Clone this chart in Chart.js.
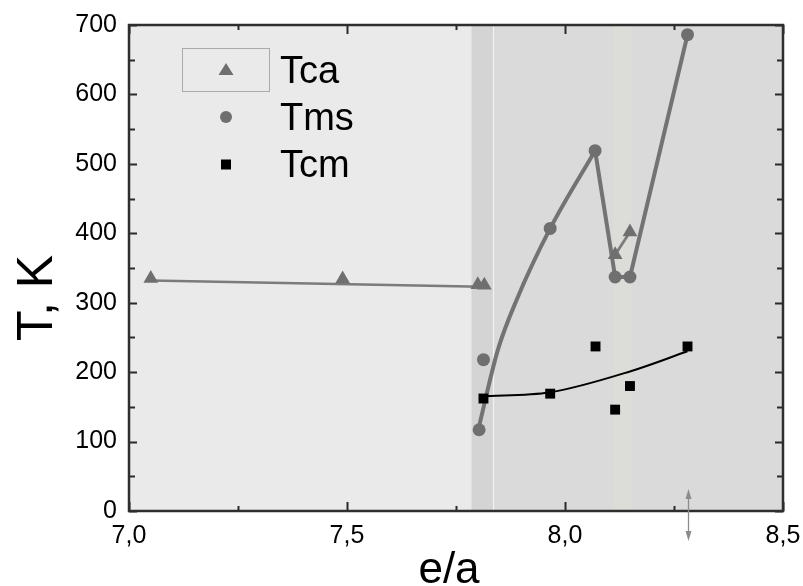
<!DOCTYPE html>
<html><head><meta charset="utf-8">
<script src="https://cdn.jsdelivr.net/npm/chart.js@4.4.1/dist/chart.umd.min.js"></script>
<style>html,body{margin:0;padding:0;background:#fff}canvas{display:block}</style>
</head><body>
<canvas id="c" width="803" height="586"></canvas>
<script>
// ---- data ----
const tcaX = [7.05, 7.49, 7.800, 7.815, 8.115, 8.149];
const tcaY = [335, 334, 326, 325, 369, 402];
const tmsX = [7.803, 7.813, 7.966, 8.069, 8.115, 8.149, 8.281];
const tmsY = [117, 218, 407, 519, 337, 337, 686];
const tcmX = [7.813, 7.966, 8.070, 8.115, 8.149, 8.281];
const tcmY = [162, 169, 237, 146, 180, 237];
// guide lines drawn in the picture
const tcaFitX = [7.05, 7.81];
const tcaFitY = [332, 323];
const tcaSegX = [8.115, 8.149];
const tcaSegY = [369, 402];
const tmsCurveX = [7.801, 7.846, 7.889, 7.966, 8.069];
const tmsCurveY = [117, 232, 304, 407, 519];
const tmsPolyX = [8.069, 8.115, 8.149, 8.281];
const tmsPolyY = [519, 337, 337, 686];
const tcmFitX = [7.807, 7.966, 8.149, 8.281];
const tcmFitY = [165, 171, 201, 230];
const xTicks = [7.0, 7.5, 8.0, 8.5];
const yTicks = [0, 100, 200, 300, 400, 500, 600, 700];
const seriesNames = ['Tca', 'Tms', 'Tcm'];
const xTitle = 'e/a';
const yTitle = 'T, K';
// shaded regions (e/a values) and arrow marker position
const shadeStart = 7.786, shadeLine = 7.836, bandLo = 8.111, bandHi = 8.153;
const arrowX = 8.281;

const pts = (xs, ys) => xs.map((v, i) => ({x: v, y: ys[i]}));
const FONT = '"Liberation Sans", Arial, sans-serif';
const GREY = '#6e6f6e';

const plotPlugin = {
  id: 'plotDeco',
  beforeDatasetsDraw(chart) {
    const {ctx, chartArea: a, scales: {x}} = chart;
    const px = v => x.getPixelForValue(v);
    ctx.save();
    ctx.fillStyle = '#e9eae9'; ctx.fillRect(a.left, a.top, a.width, a.height);
    ctx.fillStyle = '#d9dad9'; ctx.fillRect(px(shadeStart), a.top, a.right - px(shadeStart), a.height);
    ctx.fillStyle = '#d3d4d3'; ctx.fillRect(px(shadeStart), a.top, px(shadeLine) - px(shadeStart), a.height);
    ctx.fillStyle = '#dcdcd8'; ctx.fillRect(px(bandLo), a.top, px(bandHi) - px(bandLo), a.height);
    ctx.strokeStyle = '#f2f2f2'; ctx.lineWidth = 1.2;
    ctx.beginPath(); ctx.moveTo(px(shadeLine), a.top); ctx.lineTo(px(shadeLine), a.bottom); ctx.stroke();
    ctx.restore();
  },
  afterDatasetsDraw(chart) {
    const {ctx, chartArea: a, scales: {x, y}} = chart;
    ctx.save();
    ctx.strokeStyle = '#2a2a2a'; ctx.lineWidth = 2;
    ctx.beginPath();
    for (let v = 7.0; v <= 8.5001; v += 0.25) {
      const p = Math.round(x.getPixelForValue(v)) + 0.5;
      const L = (Math.abs(v * 2 - Math.round(v * 2)) < 1e-6) ? 9 : 5;
      ctx.moveTo(p, a.bottom); ctx.lineTo(p, a.bottom - L);
      ctx.moveTo(p, a.top); ctx.lineTo(p, a.top + L);
    }
    for (let v = 0; v <= 700; v += 50) {
      const p = Math.round(y.getPixelForValue(v)) + 0.5;
      const L = (v % 100 === 0) ? 8 : 6;
      ctx.moveTo(a.left, p); ctx.lineTo(a.left + L, p);
      ctx.moveTo(a.right, p); ctx.lineTo(a.right - L, p);
    }
    ctx.stroke();
    ctx.strokeStyle = '#2e2e2e'; ctx.lineWidth = 2.5;
    ctx.strokeRect(a.left, a.top, a.width, a.height);
    // legend
    const lx = a.left + 53.5, ly = a.top + 23.5;
    ctx.strokeStyle = '#a9aaa9'; ctx.lineWidth = 1;
    ctx.strokeRect(lx, ly, 87, 43);
    const sx = lx + 43.5;
    const rows = [ly + 21.5, ly + 68.5, ly + 116];
    ctx.fillStyle = GREY;
    ctx.beginPath();
    ctx.moveTo(sx, rows[0] - 7); ctx.lineTo(sx + 7.5, rows[0] + 5); ctx.lineTo(sx - 7.5, rows[0] + 5); ctx.closePath(); ctx.fill();
    ctx.beginPath(); ctx.arc(sx, rows[1], 6, 0, Math.PI * 2); ctx.fill();
    ctx.fillStyle = '#000'; ctx.fillRect(sx - 5, rows[2] - 5, 10, 10);
    ctx.fillStyle = '#000'; ctx.font = '38px ' + FONT; ctx.textBaseline = 'alphabetic'; ctx.textAlign = 'left';
    const tx = lx + 97.5;
    ctx.fillText(seriesNames[0], tx, rows[0] + 13);
    ctx.fillText(seriesNames[1], tx, rows[1] + 13);
    ctx.fillText(seriesNames[2], tx, rows[2] + 12.5);
    ctx.restore();
  },
  afterDraw(chart) {
    const {ctx, chartArea: a, scales: {x}} = chart;
    ctx.save();
    const ax = Math.round(x.getPixelForValue(arrowX)) + 0.5;
    ctx.strokeStyle = '#8c8c8c'; ctx.fillStyle = '#8c8c8c'; ctx.lineWidth = 1.3;
    ctx.beginPath(); ctx.moveTo(ax, a.bottom - 18); ctx.lineTo(ax, a.bottom + 26); ctx.stroke();
    ctx.beginPath(); ctx.moveTo(ax, a.bottom - 22); ctx.lineTo(ax + 3, a.bottom - 12); ctx.lineTo(ax - 3, a.bottom - 12); ctx.closePath(); ctx.fill();
    ctx.beginPath(); ctx.moveTo(ax, a.bottom + 30); ctx.lineTo(ax + 3, a.bottom + 20); ctx.lineTo(ax - 3, a.bottom + 20); ctx.closePath(); ctx.fill();
    ctx.fillStyle = '#000';
    ctx.font = '44px ' + FONT; ctx.textAlign = 'center'; ctx.textBaseline = 'alphabetic';
    ctx.fillText(xTitle, 449, 583);
    ctx.translate(52, a.top + 273);
    ctx.rotate(-Math.PI / 2);
    ctx.font = '50px ' + FONT;
    ctx.fillText(yTitle, 0, 0);
    ctx.restore();
  }
};

new Chart(document.getElementById('c'), {
  type: 'scatter',
  data: {
    datasets: [
      {label: 'Tca', data: pts(tcaX, tcaY), pointStyle: 'triangle', pointRadius: 8.5, backgroundColor: GREY, borderColor: GREY, borderWidth: 0, showLine: false, order: 1},
      {label: 'Tms', data: pts(tmsX, tmsY), pointStyle: 'circle', pointRadius: 6.5, backgroundColor: GREY, borderColor: GREY, borderWidth: 0, showLine: false, order: 1},
      {label: 'Tcm', data: pts(tcmX, tcmY), pointStyle: 'rect', pointRadius: 7, backgroundColor: '#000', borderColor: '#000', borderWidth: 0, showLine: false, order: 0},
      {label: 'Tca fit', data: pts(tcaFitX, tcaFitY), showLine: true, pointRadius: 0, borderColor: '#7a7b7a', borderWidth: 2.7, tension: 0, order: 5},
      {label: 'Tca seg', data: pts(tcaSegX, tcaSegY), showLine: true, pointRadius: 0, borderColor: '#7a7b7a', borderWidth: 2.7, tension: 0, order: 5},
      {label: 'Tms curve', data: pts(tmsCurveX, tmsCurveY), showLine: true, pointRadius: 0, borderColor: '#727372', borderWidth: 4, cubicInterpolationMode: 'monotone', borderCapStyle: 'round', order: 4},
      {label: 'Tms poly', data: pts(tmsPolyX, tmsPolyY), showLine: true, pointRadius: 0, borderColor: '#727372', borderWidth: 4, tension: 0, borderJoinStyle: 'round', order: 4},
      {label: 'Tcm fit', data: pts(tcmFitX, tcmFitY), showLine: true, pointRadius: 0, borderColor: '#000', borderWidth: 2, cubicInterpolationMode: 'monotone', order: 3}
    ]
  },
  options: {
    responsive: false,
    animation: false,
    events: [],
    layout: {padding: {top: 25, right: 20, left: 0, bottom: 0}},
    plugins: {legend: {display: false}, tooltip: {enabled: false}},
    scales: {
      x: {
        type: 'linear', min: 7, max: 8.5,
        afterBuildTicks: s => { s.ticks = xTicks.map(v => ({value: v})); },
        afterFit: s => { s.height = 75; s.paddingLeft = 0; s.paddingRight = 0; },
        grid: {display: false, drawTicks: false},
        border: {display: false},
        ticks: {padding: 10, maxRotation: 0, autoSkip: false, color: '#000', font: {family: FONT, size: 25},
          callback: v => Number(v).toFixed(1).replace('.', ',')}
      },
      y: {
        type: 'linear', min: 0, max: 700,
        afterBuildTicks: s => { s.ticks = yTicks.map(v => ({value: v})); },
        afterFit: s => { s.width = 129; s.paddingTop = 0; s.paddingBottom = 0; },
        grid: {display: false, drawTicks: false},
        border: {display: false},
        ticks: {padding: 12, color: '#000', font: {family: FONT, size: 25}}
      }
    }
  },
  plugins: [plotPlugin]
});
</script>
</body></html>
